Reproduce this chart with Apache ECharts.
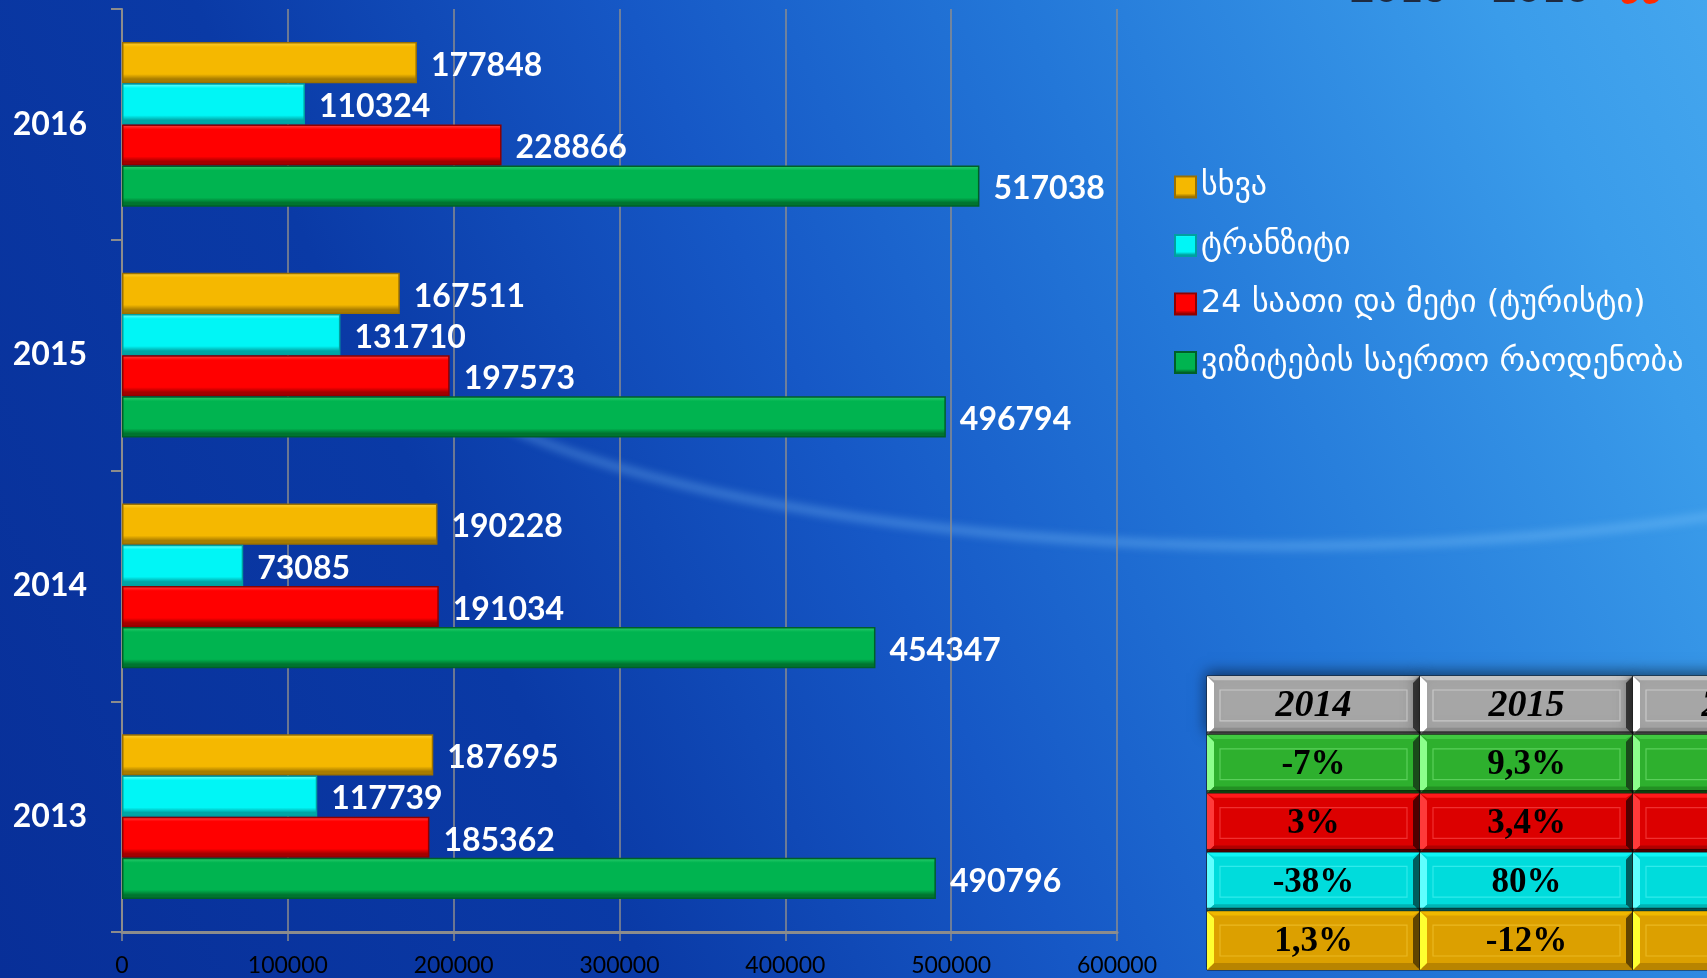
<!DOCTYPE html>
<html>
<head>
<meta charset="utf-8">
<script src="https://cdn.jsdelivr.net/npm/echarts@6/dist/echarts.min.js"></script>
<style>
html,body{margin:0;padding:0;width:1707px;height:978px;overflow:hidden;}
#bg{position:absolute;left:0;top:0;width:1707px;height:978px;overflow:hidden;
 background:linear-gradient(65deg,#082f98 0%,#0a3aa6 30%,#1658c6 50%,#2377d8 68%,#3a9cea 90%,#44a6ee 100%);}
#swoosh{position:absolute;left:380px;top:60px;width:1800px;height:490px;border-radius:50%;
 border:8px solid transparent;border-bottom-color:rgba(140,205,255,0.38);box-sizing:border-box;filter:blur(4px);}
#chart{position:absolute;left:0;top:0;width:1900px;height:978px;}
</style>
</head>
<body>
<div id="bg"><div id="swoosh"></div></div>
<div id="chart"></div>
<script>
// ---- data ----
const years = ['2013', '2014', '2015', '2016'];
const totalVisits = [490796, 454347, 496794, 517038];
const tourists24h = [185362, 191034, 197573, 228866];
const transit = [117739, 73085, 131710, 110324];
const other = [187695, 190228, 167511, 177848];

const nameTotal = 'ვიზიტების საერთო რაოდენობა';
const nameTourist = '24 საათი და მეტი (ტურისტი)';
const nameTransit = 'ტრანზიტი';
const nameOther = 'სხვა';

const xTicks = [0, 100000, 200000, 300000, 400000, 500000, 600000];

const tableCols = ['2014', '2015', '2016'];
const tableRows = ['header', 'total', 'tourist', 'transit', 'other'];
const changeTotal = ['-7%', '9,3%', ''];
const changeTourist = ['3%', '3,4%', ''];
const changeTransit = ['-38%', '80%', ''];
const changeOther = ['1,3%', '-12%', ''];

// ---- styling helpers ----
function bevel(base, light, dark) {
  return {type: 'linear', x: 0, y: 0, x2: 0, y2: 1, colorStops: [
    {offset: 0, color: light}, {offset: 0.12, color: base},
    {offset: 0.78, color: base}, {offset: 0.9, color: dark}, {offset: 1, color: dark}]};
}
const labelStyle = {show: true, position: 'right', distance: 14, offset: [0, 3], color: '#ffffff',
  fontSize: 32, fontWeight: 'bold', fontFamily: 'Lato, "Open Sans", sans-serif'};

function barSeries(name, data, base, light, dark, border) {
  return {name: name, type: 'bar', data: data, xAxisIndex: 0, yAxisIndex: 0,
    barGap: '0%', barCategoryGap: '28.6%',
    itemStyle: {color: bevel(base, light, dark), borderColor: border, borderWidth: 1.5},
    label: labelStyle, emphasis: {disabled: true}};
}

const rowStyles = [
  {base: '#a6a6a6', light: '#ffffff', top: '#c4c4c4', dark: '#3c3c3c', bottom: '#8c8c8c', inner: '#c8c8c8'},
  {base: '#2eb02e', light: '#8cff8c', top: '#40c840', dark: '#1a4a1a', bottom: '#239023', inner: '#5ad05a'},
  {base: '#dc0000', light: '#ff3a3a', top: '#ff1a1a', dark: '#500000', bottom: '#b00000', inner: '#f03030'},
  {base: '#00dcdc', light: '#60ffff', top: '#10f4f4', dark: '#005c5c', bottom: '#00b4b4', inner: '#30eaea'},
  {base: '#dca000', light: '#ffff30', top: '#f0b800', dark: '#604400', bottom: '#b88400', inner: '#eab820'}
];

const tableData = [];
const rowTexts = [tableCols, changeTotal, changeTourist, changeTransit, changeOther];
rowTexts.forEach(function (texts, r) {
  texts.forEach(function (t, c) { tableData.push([c, r, t]); });
});

function renderCell(params, api) {
  const item = tableData[params.dataIndex];
  const p = api.coord([item[0], item[1]]);
  const s = api.size([1, 1]);
  const w = s[0], h = s[1], x = p[0] - w / 2, y = p[1] - h / 2;
  const r = item[1];
  const st = rowStyles[r];
  const b = 7;
  const header = r === 0;
  return {type: 'group', children: [
    {type: 'rect', shape: {x: x, y: y, width: w, height: h},
      style: {fill: st.base, stroke: '#1a1a1a', lineWidth: 1,
        shadowBlur: header ? 14 : 0, shadowColor: 'rgba(0,0,0,0.55)', shadowOffsetY: -3}},
    {type: 'polygon', shape: {points: [[x, y], [x + w, y], [x + w - b, y + b * 0.6], [x + b, y + b * 0.6]]}, style: {fill: st.top}},
    {type: 'polygon', shape: {points: [[x, y + h], [x + w, y + h], [x + w - b, y + h - b], [x + b, y + h - b]]}, style: {fill: st.bottom}},
    {type: 'polygon', shape: {points: [[x, y], [x + b, y + b], [x + b, y + h - b], [x, y + h]]}, style: {fill: st.light}},
    {type: 'polygon', shape: {points: [[x + w, y], [x + w - b, y + b], [x + w - b, y + h - b], [x + w, y + h]]}, style: {fill: st.dark}},
    {type: 'rect', shape: {x: x + 13, y: y + 14, width: w - 26, height: h - 28},
      style: {fill: 'none', stroke: st.inner, lineWidth: 1.2}},
    {type: 'text', style: {text: item[2], x: p[0], y: p[1] + 1, align: 'center', verticalAlign: 'middle',
      fill: '#000000', fontFamily: '"Liberation Serif", "DejaVu Serif", serif',
      fontSize: header ? 38 : 35, fontStyle: header ? 'italic' : 'normal', fontWeight: 'bold'}}
  ]};
}

const chart = echarts.init(document.getElementById('chart'), null, {renderer: 'canvas'});
chart.setOption({
  backgroundColor: 'transparent',
  animation: false,
  graphic: [{
    type: 'text', left: 1350, top: -33, z: 10,
    style: {text: '2013 – 2016', fontSize: 42, fontWeight: 'bold', fill: '#1e2a40', fontFamily: 'Lato, sans-serif',
      shadowBlur: 4, shadowColor: 'rgba(0,0,0,0.5)'}
  }, {
    type: 'text', left: 1618, top: -27, z: 10,
    style: {text: 'წწ', fontSize: 40, fontWeight: 'bold', fontStyle: 'italic', fill: '#ff2a00',
      fontFamily: '"DejaVu Sans", sans-serif', shadowBlur: 4, shadowColor: 'rgba(0,0,0,0.5)'}
  }],
  legend: {
    orient: 'vertical', left: 1169, top: 166, itemGap: 26.5, itemWidth: 21, itemHeight: 21,
    icon: 'rect', selectedMode: false,
    data: [nameOther, nameTransit, nameTourist, nameTotal],
    textStyle: {color: '#ffffff', fontSize: 32, lineHeight: 32, fontFamily: '"DejaVu Sans", sans-serif'}
  },
  grid: [
    {left: 122, top: 9, width: 995, height: 923, containLabel: false},
    {left: 1207, top: 676, width: 639, height: 294, containLabel: false}
  ],
  xAxis: [
    {type: 'value', gridIndex: 0, min: xTicks[0], max: xTicks[xTicks.length - 1], interval: xTicks[1] - xTicks[0],
      axisLine: {show: true, lineStyle: {color: '#8c8c8c', width: 3}},
      axisTick: {show: true, length: 9, lineStyle: {color: '#8c8c8c', width: 1.5}},
      splitLine: {show: true, lineStyle: {color: '#8c8c8c', width: 1.5}},
      axisLabel: {color: '#000000', fontSize: 23, margin: 22, fontFamily: 'Lato, sans-serif',
        formatter: function (v) { return String(v); }}},
    {type: 'category', gridIndex: 1, data: tableCols, show: false}
  ],
  yAxis: [
    {type: 'category', gridIndex: 0, data: years,
      axisLine: {show: true, lineStyle: {color: '#8c8c8c', width: 2}},
      axisTick: {show: true, length: 11, lineStyle: {color: '#8c8c8c', width: 2}},
      axisLabel: {color: '#ffffff', fontSize: 32, fontWeight: 'bold', margin: 35, fontFamily: 'Lato, sans-serif'}},
    {type: 'category', gridIndex: 1, data: tableRows, inverse: true, show: false}
  ],
  series: [
    barSeries(nameOther, other, '#f5b800', '#ffd23a', '#a87c00', '#9a7000'),
    barSeries(nameTransit, transit, '#00f6f6', '#80ffff', '#00a6a6', '#00a0a0'),
    barSeries(nameTourist, tourists24h, '#ff0000', '#ff4a4a', '#a40000', '#900000'),
    barSeries(nameTotal, totalVisits, '#00b450', '#30d070', '#00742f', '#006028'),
    {type: 'custom', name: 'table', xAxisIndex: 1, yAxisIndex: 1, data: tableData,
      renderItem: renderCell, silent: true, z: 5}
  ]
});
</script>
</body>
</html>
